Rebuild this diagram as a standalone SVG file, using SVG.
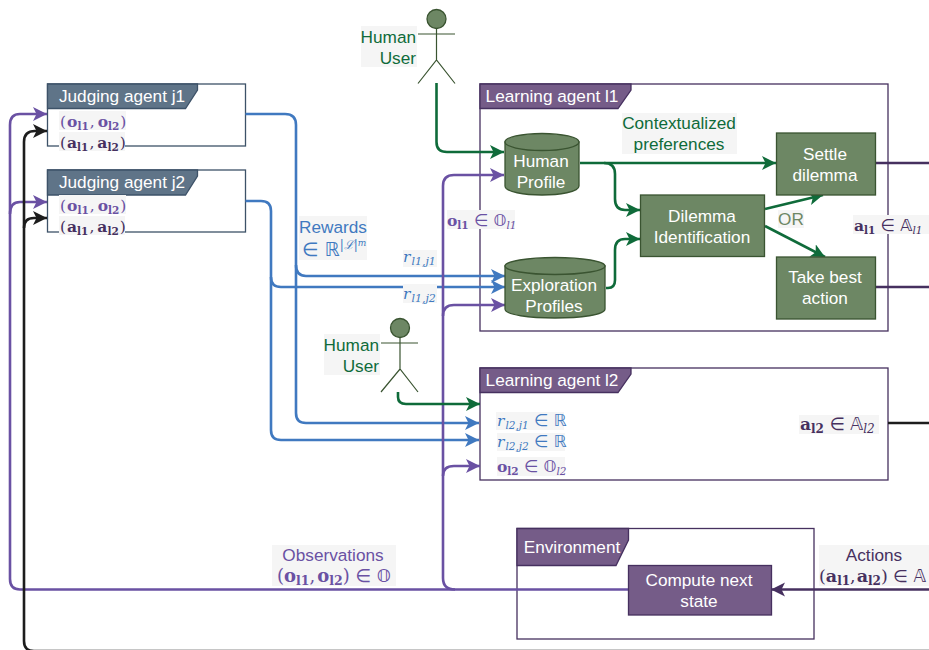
<svg xmlns="http://www.w3.org/2000/svg" width="929" height="650" viewBox="0 0 929 650">
<style>
text{font-family:"Liberation Sans",Arial,sans-serif;font-size:17.200px;text-anchor:middle}
.w{fill:#fff}
.g{fill:#0f6b3a}
.b{fill:#4079c0}
.p{fill:#6a51a3}
.d{fill:#46305f}
text.m{font-family:"DejaVu Serif","Liberation Serif",serif;text-anchor:start;font-size:15.500px}
text.a{font-size:16.500px}
.ds{font-family:"DejaVu Sans",sans-serif;font-weight:400;font-size:16.500px}
.bd{font-weight:700}
.s{font-size:10.500px}
.i{font-style:italic}
.lab{fill:#f5f5f5}
.box{fill:#fff;stroke:#46305f;stroke-width:1.3}
.jbox{fill:#fff;stroke:#3d5268;stroke-width:1.3}
.hp{fill:#755c88;stroke:#46305f;stroke-width:1.3}
.hj{fill:#5f7488;stroke:#3d5268;stroke-width:1.3}
.n{fill:#6d8764;stroke:#3a5431;stroke-width:1.3}
.fig{fill:none;stroke:#3a5431;stroke-width:1.2}
.c{fill:none;stroke-width:2.600;stroke-linejoin:round}
.cg{stroke:#0f6b3a}.cb{stroke:#4079c0}.cp{stroke:#6a51a3}.ck{stroke:#1d1d1d}.cd{stroke:#46305f}
</style>
<defs>
<marker id="ag" markerUnits="userSpaceOnUse" markerWidth="16" markerHeight="16" refX="14" refY="7" orient="auto"><path d="M0 0L14 7L0 14L3.500 7Z" fill="#0f6b3a"/></marker>
<marker id="ab" markerUnits="userSpaceOnUse" markerWidth="16" markerHeight="16" refX="14" refY="7" orient="auto"><path d="M0 0L14 7L0 14L3.500 7Z" fill="#4079c0"/></marker>
<marker id="ap" markerUnits="userSpaceOnUse" markerWidth="16" markerHeight="16" refX="14" refY="7" orient="auto"><path d="M0 0L14 7L0 14L3.500 7Z" fill="#6a51a3"/></marker>
<marker id="ak" markerUnits="userSpaceOnUse" markerWidth="16" markerHeight="16" refX="14" refY="7" orient="auto"><path d="M0 0L14 7L0 14L3.500 7Z" fill="#1d1d1d"/></marker>
<marker id="ad" markerUnits="userSpaceOnUse" markerWidth="16" markerHeight="16" refX="14" refY="7" orient="auto"><path d="M0 0L14 7L0 14L3.500 7Z" fill="#46305f"/></marker>
</defs>

<g id="judge-j1"><rect class="jbox" x="47.500" y="84" width="198" height="62"/><path class="hj" d="M47.500 84H197.500V90L185.500 108.500H47.500Z"/><text class="w" x="122" y="102">Judging agent j1</text></g>
<g id="judge-j2"><rect class="jbox" x="47.500" y="170" width="198" height="62"/><path class="hj" d="M47.500 170H197.500V176L185.500 195H47.500Z"/><text class="w" x="122" y="188">Judging agent j2</text></g>
<g id="agent-l1"><rect class="box" x="480" y="84" width="408" height="247"/><path class="hp" d="M480 84H631V90L618 108.500H480Z"/><text class="w" x="552" y="102">Learning agent l1</text></g>
<g id="agent-l2"><rect class="box" x="480" y="368" width="408" height="112"/><path class="hp" d="M480 368H631V374L618 392.500H480Z"/><text class="w" x="552" y="386">Learning agent l2</text></g>
<g id="environment"><rect class="box" x="517" y="528.500" width="297" height="110.500"/><path class="hp" d="M517 528.500H628.500V540L616 565.500H517Z"/><text class="w" x="572" y="553">Environment</text></g>

<g id="connectors">
<path class="c cb" d="M245.500 114H285Q296 114 296 125V265Q296 276 306 276H505" marker-end="url(#ab)"/>
<path class="c cb" d="M245.500 201H261Q271 201 271 211V277Q271 287 281 287H505" marker-end="url(#ab)"/>
<path class="c cb" d="M296 265V413Q296 423 306 423H479" marker-end="url(#ab)"/>
<path class="c cb" d="M271 277V430Q271 440 281 440H479" marker-end="url(#ab)"/>
<path class="c cp" d="M628 589.500H20Q10 589.500 10 579V125Q10 114 20 114H47" marker-end="url(#ap)"/>
<path class="c cp" d="M10 214Q10 202 20 202H47" marker-end="url(#ap)"/>
<path class="c cp" d="M455 589.500Q443 589.500 443 578V186Q443 175 454 175H504" marker-end="url(#ap)"/>
<path class="c cp" d="M443 316Q443 305 454 305H505" marker-end="url(#ap)"/>
<path class="c cp" d="M443 476Q443 466 454 466H480" marker-end="url(#ap)"/>
<path class="c ck" d="M929 651H34Q24 651 24 641V142Q24 131 35 131H47" marker-end="url(#ak)"/>
<path class="c ck" d="M24 228Q24 218 34 218H47" marker-end="url(#ak)"/>
<path class="c cd" d="M929 589.500H771" marker-end="url(#ad)"/>
<path class="c cd" d="M876 163H929M876 287H929"/>
<path class="c ck" d="M888 423H929"/>
<path class="c cg" d="M436.500 83V142Q436.500 152 447 152H504" marker-end="url(#ag)"/>
<path class="c cg" d="M398 392V397Q398 404 406 404H480" marker-end="url(#ag)"/>
<path class="c cg" d="M580 163H776" marker-end="url(#ag)"/>
<path class="c cg" d="M604 163Q615 163 615 174V199Q615 210 625 210H640" marker-end="url(#ag)"/>
<path class="c cg" d="M606 288H608Q615 288 615 280V250Q615 239 625 239H640" marker-end="url(#ag)"/>
<path class="c cg" d="M765 209L823 195" marker-end="url(#ag)"/>
<path class="c cg" d="M765 226L825 257" marker-end="url(#ag)"/>
</g>

<g id="human-user-1"><circle class="n" cx="436.500" cy="19" r="9.500"/><path class="fig" d="M436.500 28.500V60M418 34H455M418 83.500L436.500 60L455 83.500"/><rect class="lab" x="361" y="26" width="56" height="41"/><text class="g" x="416" y="43" style="text-anchor:end">Human</text><text class="g" x="416" y="64" style="text-anchor:end">User</text></g>
<g id="human-user-2"><circle class="n" cx="400" cy="328" r="9.500"/><path class="fig" d="M400 337.500V369M381 343H418M381 392L400 369L418 392"/><rect class="lab" x="324" y="334" width="56" height="41"/><text class="g" x="379" y="351" style="text-anchor:end">Human</text><text class="g" x="379" y="372" style="text-anchor:end">User</text></g>

<g id="human-profile"><path class="n" d="M505 142V186C505 192 525 195 542 195S579 192 579 186V142Z"/><ellipse class="n" cx="542" cy="142" rx="37" ry="8.500"/><text class="w" x="541" y="167">Human</text><text class="w" x="541" y="188">Profile</text></g>
<g id="exploration-profiles"><path class="n" d="M505 266V309C505 315 530 318 555 318S605 315 605 309V266Z"/><ellipse class="n" cx="555" cy="266" rx="50" ry="8.500"/><text class="w" x="554" y="291">Exploration</text><text class="w" x="554" y="312">Profiles</text></g>
<g id="dilemma"><rect class="n" x="640.500" y="195" width="124" height="61.500"/><text class="w" x="702" y="222">Dilemma</text><text class="w" x="702" y="243">Identification</text></g>
<g id="settle"><rect class="n" x="776.500" y="133" width="99" height="62"/><text class="w" x="825" y="160">Settle</text><text class="w" x="825" y="181">dilemma</text></g>
<g id="best"><rect class="n" x="776.500" y="257" width="99" height="62"/><text class="w" x="825" y="283">Take best</text><text class="w" x="825" y="304">action</text></g>
<g id="compute"><rect class="hp" x="628.500" y="565.500" width="143" height="49.500"/><text class="w" x="699" y="586">Compute next</text><text class="w" x="699" y="607">state</text></g>

<g id="labels">
<rect class="lab" x="622" y="113" width="115" height="41"/><text class="g" x="679" y="129">Contextualized</text><text class="g" x="679" y="150">preferences</text>
<rect class="lab" x="778" y="210" width="26" height="18"/><text x="791" y="225" fill="#6d8764">OR</text>
<rect class="lab" x="299" y="216" width="68" height="44"/><text class="b" x="333" y="233">Rewards</text>
<text class="m b" x="302" y="256"><tspan class="ds" style="font-size:19px">∈ ℝ</tspan><tspan dy="-7" class="i" style="font-size:12px">|ℒ|</tspan><tspan dy="-3" class="i" style="font-size:9px">m</tspan></text>
<rect class="lab" x="403" y="250" width="34" height="17"/><text class="m b" x="403" y="262"><tspan class="i">r</tspan><tspan class="s i" dy="3" dx="1" style="font-size:11px">l1,j1</tspan></text>
<rect class="lab" x="403" y="284" width="34" height="19"/><text class="m b" x="403" y="299"><tspan class="i">r</tspan><tspan class="s i" dy="3" dx="1" style="font-size:11px">l1,j2</tspan></text>
<rect class="lab" x="447" y="210" width="68" height="19"/><text class="m" x="447" y="226"><tspan class="bd p">o</tspan><tspan class="bd s p" dy="3">l1</tspan><tspan class="ds p" dy="-3"> ∈ 𝕆</tspan><tspan class="s i p" dy="3">l1</tspan></text>
<rect class="lab" x="853" y="215" width="76" height="19"/><text class="m" x="854" y="231"><tspan class="bd d">a</tspan><tspan class="bd s d" dy="3">l1</tspan><tspan class="ds d" dy="-3"> ∈ 𝔸</tspan><tspan class="s i d" dy="3">l1</tspan></text>
<rect class="lab" x="799" y="415" width="80" height="19"/><text class="m" x="800" y="430" style="font-size:17px"><tspan class="bd d">a</tspan><tspan class="bd s d" dy="3" style="font-size:12px">l2</tspan><tspan class="ds d" dy="-3" style="font-size:17.500px"> ∈ 𝔸</tspan><tspan class="s i d" dy="3" style="font-size:12px">l2</tspan></text>
<rect class="lab" x="496" y="412" width="68" height="18"/><text class="m b" x="497" y="426"><tspan class="i">r</tspan><tspan class="s i" dy="3" dx="1">l2,j1</tspan><tspan class="ds" dy="-3"> ∈ ℝ</tspan></text>
<rect class="lab" x="497" y="433" width="68" height="18"/><text class="m b" x="497" y="447"><tspan class="i">r</tspan><tspan class="s i" dy="3" dx="1">l2,j2</tspan><tspan class="ds" dy="-3"> ∈ ℝ</tspan></text>
<rect class="lab" x="497" y="457" width="68" height="19"/><text class="m" x="497" y="472"><tspan class="bd p">o</tspan><tspan class="bd s p" dy="3">l2</tspan><tspan class="ds p" dy="-3"> ∈ 𝕆</tspan><tspan class="s i p" dy="3">l2</tspan></text>
<rect class="lab" x="59" y="111" width="67" height="19"/><text class="m p" x="60" y="127">(<tspan class="bd" dx="1">o</tspan><tspan class="bd s" dy="3">l1</tspan><tspan dy="-3" dx="1">,</tspan><tspan class="bd" dx="3">o</tspan><tspan class="bd s" dy="3">l2</tspan><tspan dy="-3" dx="1">)</tspan></text>
<rect class="lab" x="59" y="132" width="66" height="19"/><text class="m d" x="60" y="148">(<tspan class="bd" dx="1">a</tspan><tspan class="bd s" dy="3">l1</tspan><tspan dy="-3" dx="1">,</tspan><tspan class="bd" dx="3">a</tspan><tspan class="bd s" dy="3">l2</tspan><tspan dy="-3" dx="1">)</tspan></text>
<rect class="lab" x="59" y="195" width="67" height="19"/><text class="m p" x="60" y="211">(<tspan class="bd" dx="1">o</tspan><tspan class="bd s" dy="3">l1</tspan><tspan dy="-3" dx="1">,</tspan><tspan class="bd" dx="3">o</tspan><tspan class="bd s" dy="3">l2</tspan><tspan dy="-3" dx="1">)</tspan></text>
<rect class="lab" x="59" y="216" width="66" height="19"/><text class="m d" x="60" y="232">(<tspan class="bd" dx="1">a</tspan><tspan class="bd s" dy="3">l1</tspan><tspan dy="-3" dx="1">,</tspan><tspan class="bd" dx="3">a</tspan><tspan class="bd s" dy="3">l2</tspan><tspan dy="-3" dx="1">)</tspan></text>
<rect class="lab" x="272" y="545" width="124" height="41"/><text class="p" x="333" y="561">Observations</text><text class="m p" x="277" y="582" style="font-size:18px">(<tspan class="bd">o</tspan><tspan class="bd s" dy="3" style="font-size:12.500px">l1</tspan><tspan dy="-3">,</tspan><tspan class="bd" dx="2">o</tspan><tspan class="bd s" dy="3" style="font-size:12.500px">l2</tspan><tspan dy="-3">)</tspan><tspan class="ds" style="font-size:18px"> ∈ 𝕆</tspan></text>
<rect class="lab" x="819" y="545" width="110" height="41"/><text class="d" x="874" y="561">Actions</text><text class="m d" x="819" y="582" style="font-size:17.500px">(<tspan class="bd">a</tspan><tspan class="bd s" dy="3" style="font-size:12px">l1</tspan><tspan dy="-3">,</tspan><tspan class="bd" dx="1">a</tspan><tspan class="bd s" dy="3" style="font-size:12px">l2</tspan><tspan dy="-3">)</tspan><tspan class="ds" style="font-size:17px"> ∈ 𝔸</tspan></text>
</g>
</svg>
